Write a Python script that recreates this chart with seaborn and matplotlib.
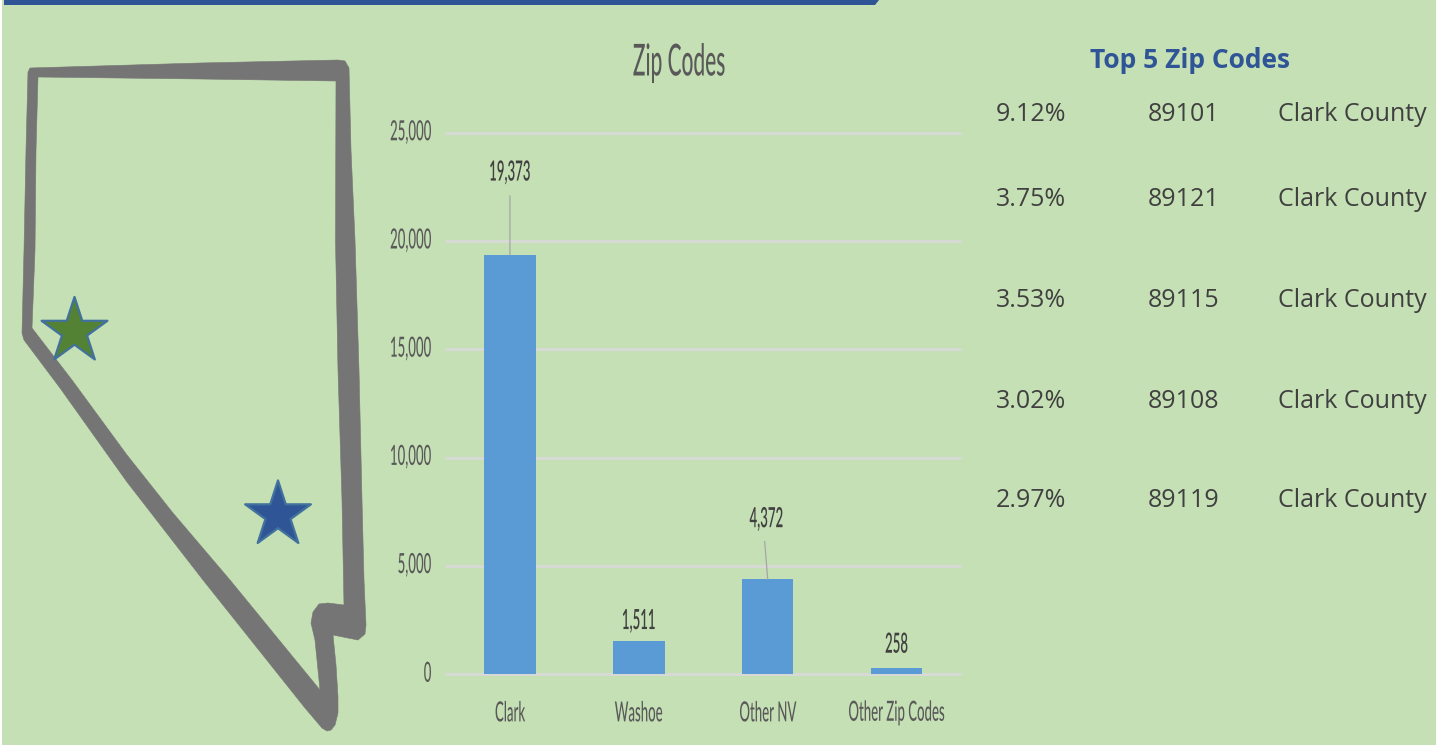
import matplotlib
matplotlib.use("Agg")
import matplotlib.pyplot as plt
import matplotlib.patheffects as pe
from matplotlib.patches import Polygon, PathPatch, Rectangle
from matplotlib.path import Path
from matplotlib.transforms import Affine2D
import pandas as pd
import seaborn as sns

# ---- data ----
regions = ["Clark", "Washoe", "Other NV", "Other Zip Codes"]
counts = [19373, 1511, 4372, 258]
y_ticks = [0, 5000, 10000, 15000, 20000, 25000]
chart_title = "Zip Codes"
table_title = "Top 5 Zip Codes"
shares = ["9.12%", "3.75%", "3.53%", "3.02%", "2.97%"]
zips = ["89101", "89121", "89115", "89108", "89119"]
counties = ["Clark County"] * 5

# ---- style ----
BG = "#C5E0B4"
NAVY = "#2F5597"
BAR = "#5B9BD5"
GRID = "#D9D9D9"
TICK = "#595959"
DARK = "#404040"
W, H = 1442, 745
sns.set_theme(style="white")
plt.rcParams["font.family"] = ["Lato", "DejaVu Sans"]


class Squeeze(pe.AbstractPathEffect):
    """Draws a text condensed horizontally and drawn out vertically, as in the source."""
    def __init__(self, sx=0.66, sy=1.39, xpivot=0.5, dy=0):
        super().__init__()
        self.sx, self.sy, self.xpivot, self.dy = sx, sy, xpivot, dy

    def draw_path(self, renderer, gc, tpath, affine, rgbFace=None):
        bb = tpath.get_extents(affine)
        px = bb.x0 + self.xpivot * bb.width
        py = bb.y0 + 0.5 * bb.height
        squeeze = (Affine2D().translate(-px, -py).scale(self.sx, self.sy)
                   .translate(px, py + self.dy))
        renderer.draw_path(gc, tpath, affine + squeeze, rgbFace)


fig = plt.figure(figsize=(W / 100, H / 100), dpi=100, facecolor="white")

# overlay in pixel coordinates for decoration: panel, banner, map, table
bg = fig.add_axes([0, 0, 1, 1], zorder=0)
bg.set_xlim(0, W)
bg.set_ylim(H, 0)
bg.axis("off")
bg.add_patch(Rectangle((2, 0), 1434, H, fc=BG, ec="none"))
bg.add_patch(Polygon([(4, 0), (879, 0), (875, 5), (4, 5)], fc=NAVY, ec="none"))

outer = [(28, 72), (30, 68), (200, 63), (338, 60), (345, 61), (349, 68), (351, 150), (355, 240),
         (359, 370), (362, 500), (364, 580), (366, 625), (365, 634), (358, 640), (348, 638),
         (333, 635), (336, 665), (338, 697), (338, 713), (335, 725), (331, 730), (327, 731),
         (322, 728), (305, 708), (203, 580), (127, 482), (60, 388), (24, 340),
         (22, 333), (24, 250), (26, 150)]
inner = [(38, 77), (200, 79), (336, 81), (335.5, 240), (338, 370), (342, 500),
         (344, 605), (336, 604), (328, 603), (319, 604), (313, 612), (311, 623), (315, 640),
         (320, 690), (230, 580), (173, 513), (127, 455), (72, 380), (32, 328), (35, 250),
         (36, 150)]
verts = outer + [outer[0]] + inner[::-1] + [inner[-1]]
codes = ([Path.MOVETO] + [Path.LINETO] * (len(outer) - 1) + [Path.CLOSEPOLY]
         + [Path.MOVETO] + [Path.LINETO] * (len(inner) - 1) + [Path.CLOSEPOLY])
bg.add_patch(PathPatch(Path(verts, codes), fc="#757575", ec="#757575", lw=0.4))

stars = pd.DataFrame({"x": [74.5, 278], "y": [331.5, 515], "who": ["a", "b"]})
sns.scatterplot(data=stars, x="x", y="y", hue="who", palette={"a": "#548235", "b": NAVY},
                marker="*", s=2480, edgecolor="#41719C", linewidth=1.6, legend=False, ax=bg)
bg.set_xlabel("")
bg.set_ylabel("")

# table
bg.text(1190.5, 61, table_title, ha="center", va="center", color=NAVY,
        fontsize=19, fontweight="bold", family=["Open Sans", "DejaVu Sans"])
row_y = [114.5, 199, 300.5, 401, 500.5]
for y, s, z, c in zip(row_y, shares, zips, counties):
    for x, t in zip((996, 1148, 1278), (s, z, c)):
        bg.text(x, y, t, ha="left", va="center", color=DARK, fontsize=18,
                family=["Open Sans", "DejaVu Sans"])

# bar chart
L, R, T, B = 445.5, 961, 133, 674
ax = fig.add_axes([L / W, 1 - B / H, (R - L) / W, (B - T) / H], zorder=1)
ax.patch.set_alpha(0)
df = pd.DataFrame({"region": regions, "count": counts})
sns.barplot(data=df, x="region", y="count", color=BAR, saturation=1, width=0.4, ax=ax, zorder=3,
            edgecolor="none", linewidth=0)
ax.set_xlim(-0.5, 3.5)
ax.set_ylim(0, 25000)
ax.set_yticks(y_ticks)
ax.set_yticklabels([f"{v:,}" for v in y_ticks])
ax.set_xlabel("")
ax.set_ylabel("")
ax.grid(axis="y", color=GRID, lw=1.9, zorder=0, solid_capstyle="butt")
ax.set_axisbelow(True)
for sp in ax.spines.values():
    sp.set_visible(False)
for gl in ax.get_ygridlines():
    gl.set_clip_on(False)
ax.tick_params(axis="y", length=0, pad=10, labelsize=14.4, labelcolor=TICK)
ax.tick_params(axis="x", length=0, pad=22, labelsize=14.4, labelcolor=TICK)
for lab in ax.get_yticklabels():
    lab.set_fontweight("medium")
    lab.set_path_effects([Squeeze(xpivot=1.0, dy=2)])
for lab in ax.get_xticklabels():
    lab.set_fontweight("medium")
    lab.set_path_effects([Squeeze()])

# data labels and leader lines, offsets in pixels from the bar top
label_off = [(0, 82), (0, 20), (-1, 60), (0, 24)]
leader_off = [(0, 59), None, (-3, 38), None]
for i, v in enumerate(counts):
    t = ax.annotate(f"{v:,}", xy=(i, v), xytext=label_off[i], textcoords="offset pixels",
                    ha="center", va="center", color=DARK, fontsize=14.4, fontweight="semibold",
                    zorder=5)
    t.set_path_effects([Squeeze()])
    if leader_off[i]:
        ax.annotate("", xy=(i, v), xytext=leader_off[i], textcoords="offset pixels",
                    arrowprops=dict(arrowstyle="-", color="#A6A6A6", lw=0.9, shrinkA=0, shrinkB=0))

t = bg.text(679, 63, chart_title, ha="center", va="center", color=TICK, fontsize=22.8,
            fontweight="medium")
t.set_path_effects([Squeeze()])

fig.savefig("out.png", dpi=100, facecolor="white")
